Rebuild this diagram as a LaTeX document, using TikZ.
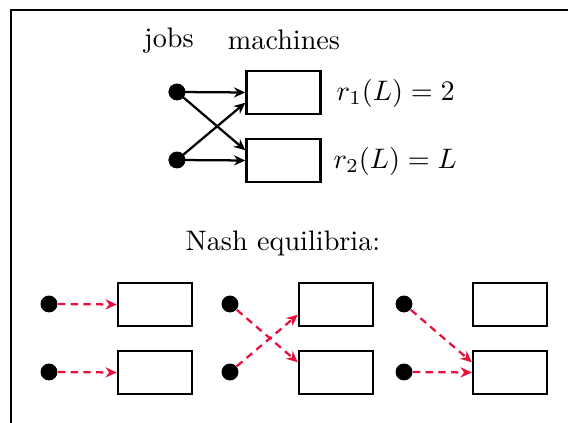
\documentclass[tikz,border=0pt]{standalone}
\usetikzlibrary{arrows.meta}
\definecolor{nashred}{RGB}{235,15,60}
\begin{document}
\begin{tikzpicture}[x=0.3546pt,y=-0.3546pt,
  machine/.style={draw,thick,minimum width=26.3pt,minimum height=15.4pt,inner sep=0pt},
  job/.style={circle,fill,inner sep=0pt,minimum size=6pt},
  arr/.style={thick,-{Stealth[length=4pt,width=3.6pt]},shorten <=-3pt},
  narr/.style={thick,nashred,dash pattern=on 2.6pt off 1.9pt,-{Stealth[length=4pt,width=3.6pt]}},
  lbl/.style={inner sep=0pt}]
\useasboundingbox (0,0) rectangle (568,423);
\draw[thick] (11,430) -- (11,10) -- (575,10);
% top part
\node[lbl,anchor=base] (jobs) at (169,48) {jobs};
\node[lbl,anchor=base] (mach) at (284,50) {machines};
\node[job] (j1) at (177,92) {};
\node[job] (j2) at (177,160) {};
\node[machine] (m1) at (283.5,92.5) {};
\node[machine] (m2) at (283.5,160.5) {};
\node[lbl,anchor=west] (r1) at (336,93) {$r_1(L)=2$};
\node[lbl,anchor=west] (r2) at (333,161) {$r_2(L)=L$};
\draw[arr] (j1.center) -- (m1.west);
\draw[arr] (j1.center) -- (m2.165);
\draw[arr] (j2.center) -- (m1.195);
\draw[arr] (j2.center) -- (m2.west);
% Nash equilibria
\node[lbl] (nash) at (283,243) {Nash equilibria:};
% group 1
\node[job] (a1) at (49,304) {};
\node[job] (a2) at (49,372) {};
\node[machine] (am1) at (155,304.5) {};
\node[machine] (am2) at (155,372.5) {};
\draw[narr] (a1) -- (am1.west);
\draw[narr] (a2) -- (am2.west);
% group 2
\node[job] (b1) at (230,304) {};
\node[job] (b2) at (230,372) {};
\node[machine] (bm1) at (336,304.5) {};
\node[machine] (bm2) at (336,372.5) {};
\draw[narr] (b1) -- (bm2.165);
\draw[narr] (b2) -- (bm1.195);
% group 3
\node[job] (c1) at (404,304) {};
\node[job] (c2) at (404,372) {};
\node[machine] (cm1) at (510,304.5) {};
\node[machine] (cm2) at (510,372.5) {};
\draw[narr] (c1) -- (cm2.165);
\draw[narr] (c2) -- (cm2.west);
\end{tikzpicture}
\end{document}
